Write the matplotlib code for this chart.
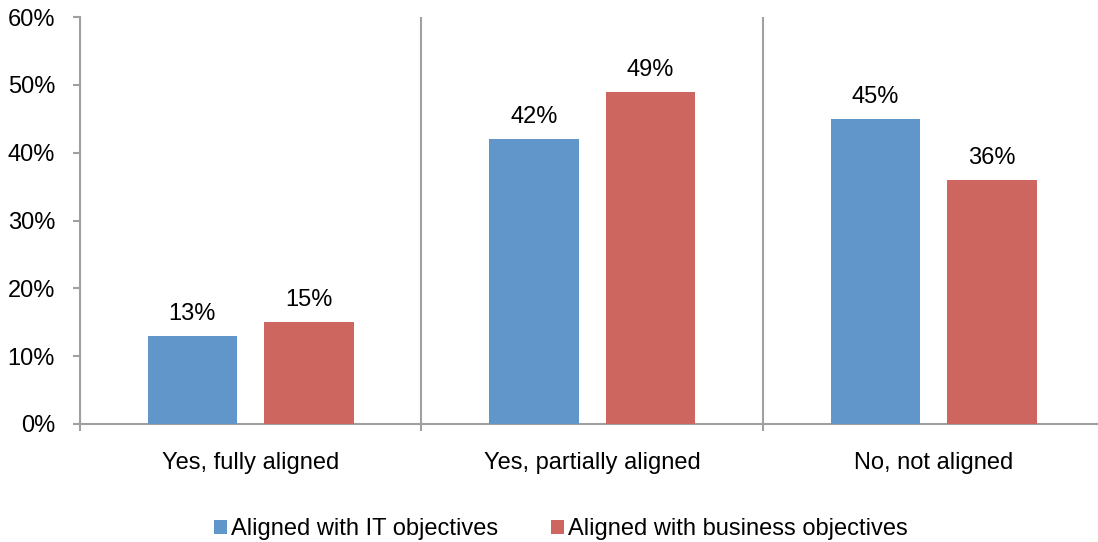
import matplotlib.pyplot as plt
import numpy as np
from matplotlib.patches import Patch

plt.rcParams['font.family'] = ['Liberation Sans', 'DejaVu Sans']

categories = ['Yes, fully aligned', 'Yes, partially aligned', 'No, not aligned']
it_values = [13, 42, 45]
business_values = [15, 49, 36]
series_names = ['Aligned with IT objectives', 'Aligned with business objectives']
colors = ['#6096C9', '#CC665F']
axis_gray = '#A0A0A0'
fs = 17

fig = plt.figure(figsize=(10.98, 5.42), dpi=100)
ax = fig.add_axes([80 / 1098, 118 / 542, 1024.5 / 1098, 407 / 542])

x = np.arange(len(categories))
width = 0.262
offset = 0.171

for vals, dx, col in [(it_values, -offset, colors[0]), (business_values, offset, colors[1])]:
    bars = ax.bar(x + dx, vals, width, color=col, zorder=3)
    for b, v in zip(bars, vals):
        ax.annotate(f'{v}%', (b.get_x() + b.get_width() / 2, v),
                    xytext=(0, 8), textcoords='offset points',
                    ha='center', va='bottom', fontsize=fs, color='black')

ax.set_xlim(-0.5, len(categories) - 0.5)
ax.set_ylim(0, 60)
ax.set_yticks(np.arange(0, 61, 10))
ax.set_yticklabels([f'{v}%' for v in range(0, 61, 10)])

# category boundaries carry the ticks and the separator lines
ax.set_xticks(np.arange(-0.5, len(categories), 1.0))
ax.set_xticklabels([])
ax.set_xticks(x, minor=True)
ax.set_xticklabels(categories, minor=True)
ax.tick_params(axis='x', which='minor', length=0, pad=20, labelsize=fs)
ax.tick_params(axis='x', which='major', length=5, width=1.5, color=axis_gray)
ax.tick_params(axis='y', length=5, width=1.5, color=axis_gray, pad=13, labelsize=fs)
ax.grid(axis='x', which='major', color=axis_gray, linewidth=1.5, zorder=0)

for side in ['top', 'right']:
    ax.spines[side].set_visible(False)
for side in ['left', 'bottom']:
    ax.spines[side].set_color(axis_gray)
    ax.spines[side].set_linewidth(1.5)

handles = [Patch(facecolor=c, edgecolor='none') for c in colors]
fig.legend(handles, series_names, loc='center', bbox_to_anchor=(561 / 1098, 1 - 529 / 542),
           ncol=2, frameon=False, fontsize=fs, handlelength=0.55, handleheight=0.55,
           handletextpad=0.17, columnspacing=2.25, borderpad=0)

fig.savefig('out.png', dpi=100)
